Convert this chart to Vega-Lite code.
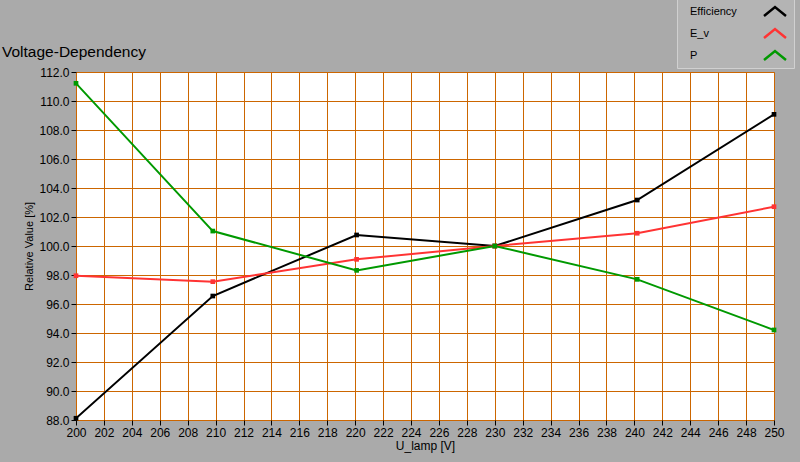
{
  "$schema": "https://vega.github.io/schema/vega-lite/v6.json",
  "autosize": "none",
  "width": 698,
  "height": 348,
  "padding": {"left": 76, "top": 72, "right": 26, "bottom": 42},
  "background": "#aaaaaa",
  "title": {
    "text": "Voltage-Dependency",
    "anchor": "start",
    "frame": "group",
    "dx": -74,
    "dy": 65,
    "offset": 0,
    "font": "Liberation Sans",
    "fontSize": 15.5,
    "fontWeight": "normal",
    "color": "#000000"
  },
  "config": {
    "view": {"fill": "#ffffff", "stroke": "#808080", "strokeWidth": 1},
    "font": "Liberation Sans"
  },
  "data": {
    "values": [
      {"U": 200, "series": "Efficiency", "value": 88.12},
      {"U": 209.8, "series": "Efficiency", "value": 96.55},
      {"U": 220.1, "series": "Efficiency", "value": 100.76},
      {"U": 230, "series": "Efficiency", "value": 100.0},
      {"U": 240.2, "series": "Efficiency", "value": 103.17},
      {"U": 250, "series": "Efficiency", "value": 109.08},
      {"U": 200, "series": "E_v", "value": 97.95},
      {"U": 209.8, "series": "E_v", "value": 97.54},
      {"U": 220.1, "series": "E_v", "value": 99.08},
      {"U": 230, "series": "E_v", "value": 100.0},
      {"U": 240.2, "series": "E_v", "value": 100.88},
      {"U": 250, "series": "E_v", "value": 102.71},
      {"U": 200, "series": "P", "value": 111.22},
      {"U": 209.8, "series": "P", "value": 101.03},
      {"U": 220.1, "series": "P", "value": 98.32},
      {"U": 230, "series": "P", "value": 100.0},
      {"U": 240.2, "series": "P", "value": 97.70},
      {"U": 250, "series": "P", "value": 94.21}
    ]
  },
  "encoding": {
    "x": {
      "field": "U",
      "type": "quantitative",
      "scale": {"domain": [200, 250], "nice": false, "zero": false},
      "axis": {
        "title": "U_lamp [V]",
        "values": [200,202,204,206,208,210,212,214,216,218,220,222,224,226,228,230,232,234,236,238,240,242,244,246,248,250],
        "format": "d",
        "grid": true,
        "gridColor": "#cc6600",
        "gridOpacity": 1,
        "gridWidth": 1,
        "domain": false,
        "tickColor": "#000000",
        "tickSize": 5,
        "labelPadding": 2,
        "labelFontSize": 12,
        "labelColor": "#000000",
        "labelFont": "Liberation Sans",
        "labelFlush": false,
        "titleFont": "Liberation Sans",
        "titleFontSize": 12,
        "titleFontWeight": "normal",
        "titleColor": "#000000",
        "titlePadding": 2
      }
    },
    "y": {
      "field": "value",
      "type": "quantitative",
      "scale": {"domain": [88, 112], "nice": false, "zero": false},
      "axis": {
        "title": "Relative Value [%]",
        "values": [88,90,92,94,96,98,100,102,104,106,108,110,112],
        "format": ".1f",
        "grid": true,
        "gridColor": "#cc6600",
        "gridOpacity": 1,
        "gridWidth": 1,
        "domain": false,
        "tickColor": "#000000",
        "tickSize": 5,
        "labelPadding": 2,
        "labelFontSize": 12,
        "labelColor": "#000000",
        "labelFont": "Liberation Sans",
        "labelFlush": false,
        "titleFont": "Liberation Sans",
        "titleFontSize": 11,
        "titleFontWeight": "normal",
        "titleColor": "#000000",
        "titlePadding": 4
      }
    },
    "color": {
      "field": "series",
      "type": "nominal",
      "scale": {"domain": ["Efficiency", "E_v", "P"], "range": ["#000000", "#ff3333", "#009900"]},
      "legend": {
        "title": null,
        "orient": "none",
        "legendX": 601,
        "legendY": -76,
        "padding": 3,
        "fillColor": "#b4b4b4",
        "strokeColor": "#d0d0d0",
        "labelFont": "Liberation Sans",
        "labelFontSize": 11,
        "labelColor": "#000000",
        "symbolType": "M-1,0.4L0,-0.4L1,0.4",
        "symbolSize": 484,
        "symbolStrokeWidth": 2.5,
        "rowPadding": -1,
        "labelLimit": 80,
        "encode": {
          "labels": {"update": {"x": {"value": 10}}},
          "symbols": {"update": {"x": {"value": 95}, "fillOpacity": {"value": 0}, "strokeOpacity": {"value": 1}}}
        }
      }
    }
  },
  "layer": [
    {"mark": {"type": "line", "strokeWidth": 2, "clip": true}},
    {"mark": {"type": "square", "size": 22, "opacity": 1, "filled": true}}
  ]
}
